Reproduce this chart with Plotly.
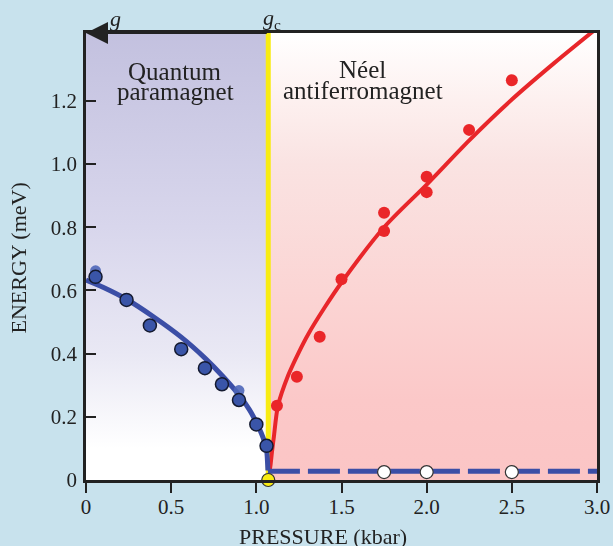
import plotly.graph_objects as go

# ---------------- data ----------------
G_C = 1.07
Y_TOP = 1.4146

blue_x = [0.056, 0.238, 0.375, 0.559, 0.698, 0.798, 0.898, 1.0, 1.06]
blue_y = [0.643, 0.570, 0.489, 0.414, 0.354, 0.303, 0.253, 0.176, 0.108]
blue_faint_x = [0.056, 0.898]
blue_faint_y = [0.662, 0.283]

blue_fit_x = [0.0, 0.1, 0.238, 0.4, 0.559, 0.7, 0.8, 0.9, 0.96, 1.0, 1.03, 1.05, 1.06, 1.068]
blue_fit_y = [0.633, 0.610, 0.572, 0.515, 0.452, 0.385, 0.330, 0.268, 0.222, 0.182, 0.147, 0.118, 0.098, 0.030]

red_x = [1.121, 1.238, 1.372, 1.5, 1.75, 1.75, 2.0, 2.0, 2.249, 2.5]
red_y = [0.235, 0.327, 0.453, 0.635, 0.846, 0.788, 0.960, 0.911, 1.108, 1.265]

red_fit_x = [1.078, 1.084, 1.092, 1.103, 1.127, 1.186, 1.25, 1.303, 1.4, 1.5, 1.75, 2.0, 2.25, 2.5, 2.75, 3.0]
red_fit_y = [0.028, 0.05, 0.09, 0.137, 0.235, 0.33, 0.405, 0.46, 0.545, 0.625, 0.80, 0.935, 1.075, 1.204, 1.32, 1.43]

gap_x = [1.068, 3.0]
gap_y = [0.028, 0.028]

open_x = [1.75, 2.0, 2.5]
open_y = [0.025, 0.025, 0.025]

xtick_vals = [0, 0.5, 1.0, 1.5, 2.0, 2.5, 3.0]
xtick_text = ["0", "0.5", "1.0", "1.5", "2.0", "2.5", "3.0"]
ytick_vals = [0, 0.2, 0.4, 0.6, 0.8, 1.0, 1.2]
ytick_text = ["0", "0.2", "0.4", "0.6", "0.8", "1.0", "1.2"]

SERIF = "Liberation Serif, Times New Roman, serif"
INK = "#222222"

fig = go.Figure()

# left (quantum paramagnet) gradient region
fig.add_trace(go.Scatter(
    x=[0, G_C, G_C, 0, 0], y=[0, 0, Y_TOP, Y_TOP, 0],
    mode="lines", line=dict(width=0), fill="toself",
    fillgradient=dict(type="vertical", colorscale=[
        [0.0, "#ffffff"], [0.07, "#ffffff"], [0.283, "#e9e8f4"],
        [0.566, "#d8d6ec"], [1.0, "#c3c1df"]]),
    hoverinfo="skip", showlegend=False))

# right (Neel) gradient region
fig.add_trace(go.Scatter(
    x=[G_C, 3.0, 3.0, G_C, G_C], y=[0, 0, Y_TOP, Y_TOP, 0],
    mode="lines", line=dict(width=0), fill="toself",
    fillgradient=dict(type="vertical", colorscale=[
        [0.0, "#fbc5c5"], [0.177, "#fbc8c8"], [0.424, "#fbd5d4"],
        [0.707, "#fae3e2"], [0.848, "#fdf0ef"], [1.0, "#ffffff"]]),
    hoverinfo="skip", showlegend=False))

# yellow critical line
fig.add_trace(go.Scatter(
    x=[G_C, G_C], y=[0, Y_TOP], mode="lines",
    line=dict(color="#f8ec12", width=5), hoverinfo="skip", showlegend=False))

# red fit
fig.add_trace(go.Scatter(
    x=red_fit_x, y=red_fit_y, mode="lines",
    line=dict(color="#e8262a", width=4, shape="spline", smoothing=0.8), showlegend=False))

# blue dashed gap line
fig.add_trace(go.Scatter(
    x=gap_x, y=gap_y, mode="lines",
    line=dict(color="#3b4ea6", width=5, dash="32px,8px"), showlegend=False))

# blue fit
fig.add_trace(go.Scatter(
    x=blue_fit_x, y=blue_fit_y, mode="lines",
    line=dict(color="#3b4ea6", width=5, shape="spline", smoothing=0.8), showlegend=False))

# faint blue points
fig.add_trace(go.Scatter(
    x=blue_faint_x, y=blue_faint_y, mode="markers",
    marker=dict(color="#4d66b8", size=11, line=dict(width=0)), opacity=0.9,
    showlegend=False))

# blue points
fig.add_trace(go.Scatter(
    x=blue_x, y=blue_y, mode="markers",
    marker=dict(color="#3a55a8", size=13, line=dict(color="#141a30", width=1.5)),
    showlegend=False))

# red points
fig.add_trace(go.Scatter(
    x=red_x, y=red_y, mode="markers",
    marker=dict(color="#ea2629", size=12, line=dict(width=0)),
    showlegend=False))

# open circles
fig.add_trace(go.Scatter(
    x=open_x, y=open_y, mode="markers",
    marker=dict(color="#ffffff", size=13, line=dict(color="#333333", width=1.2)),
    showlegend=False, cliponaxis=False))

# yellow critical point
fig.add_trace(go.Scatter(
    x=[G_C], y=[0], mode="markers",
    marker=dict(color="#f8ec12", size=13, line=dict(color="#333333", width=1.2)),
    showlegend=False, cliponaxis=False))

px_per_unit = (597 - 86.5) / 3.0


def px_x(p):
    return (p - 86.5) / px_per_unit


def px_y(p):
    return (480 - p) / 447.0


annotations = [
    dict(x=px_x(323.5), y=px_y(536), xref="x", yref="paper", text="PRESSURE (kbar)",
         showarrow=False, font=dict(family=SERIF, size=22, color=INK),
         xanchor="center", yanchor="middle"),
    dict(x=-0.134, y=0.4966, xref="paper", yref="paper", text="ENERGY (meV)",
         textangle=-90, showarrow=False, font=dict(family=SERIF, size=22, color=INK),
         xanchor="center", yanchor="middle"),
    dict(x=px_x(175), y=px_y(71.2), xref="x", yref="paper", text="Quantum",
         showarrow=False, font=dict(family=SERIF, size=25, color=INK),
         xanchor="center", yanchor="middle"),
    dict(x=px_x(175.5), y=px_y(91.2), xref="x", yref="paper", text="paramagnet",
         showarrow=False, font=dict(family=SERIF, size=25, color=INK),
         xanchor="center", yanchor="middle"),
    dict(x=px_x(363), y=px_y(69.2), xref="x", yref="paper", text="Néel",
         showarrow=False, font=dict(family=SERIF, size=25, color=INK),
         xanchor="center", yanchor="middle"),
    dict(x=px_x(363.3), y=px_y(90.2), xref="x", yref="paper", text="antiferromagnet",
         showarrow=False, font=dict(family=SERIF, size=25, color=INK),
         xanchor="center", yanchor="middle"),
    dict(x=px_x(116), y=px_y(19), xref="x", yref="paper", text="<i>g</i>",
         showarrow=False, font=dict(family=SERIF, size=22, color=INK),
         xanchor="center", yanchor="middle"),
    dict(x=px_x(272), y=px_y(19), xref="x", yref="paper", text="<i>g</i><sub>c</sub>",
         showarrow=False, font=dict(family=SERIF, size=22, color=INK),
         xanchor="center", yanchor="middle"),
    # arrow along the top border pointing to the left
    dict(x=0, y=Y_TOP, xref="x", yref="y", ax=G_C, ay=Y_TOP, axref="x", ayref="y",
         text="", showarrow=True, arrowhead=2, arrowsize=2.2, arrowwidth=2,
         arrowcolor=INK, standoff=0),
]

fig.update_layout(
    width=613, height=546,
    margin=dict(l=86, r=16, t=33, b=66, autoexpand=False),
    paper_bgcolor="#c8e2ed", plot_bgcolor="#ffffff",
    font=dict(family=SERIF, size=20, color=INK),
    annotations=annotations,
    showlegend=False,
)
fig.update_xaxes(
    range=[0, 3.0], tickvals=xtick_vals, ticktext=xtick_text,
    ticks="outside", ticklen=10, tickwidth=2, tickcolor=INK,
    showline=True, linecolor=INK, linewidth=2.5, mirror=True, automargin=False,
    showgrid=False, zeroline=False, tickfont=dict(family=SERIF, size=21, color=INK),
    ticklabelstandoff=-4,
)
fig.update_yaxes(
    range=[0, Y_TOP], tickvals=ytick_vals, ticktext=ytick_text,
    ticks="inside", ticklen=10, tickwidth=2, tickcolor=INK,
    showline=True, linecolor=INK, linewidth=2.5, mirror=True, automargin=False,
    showgrid=False, zeroline=False, tickfont=dict(family=SERIF, size=21, color=INK),
    ticklabelstandoff=2,
)

fig.write_html("out.html")
